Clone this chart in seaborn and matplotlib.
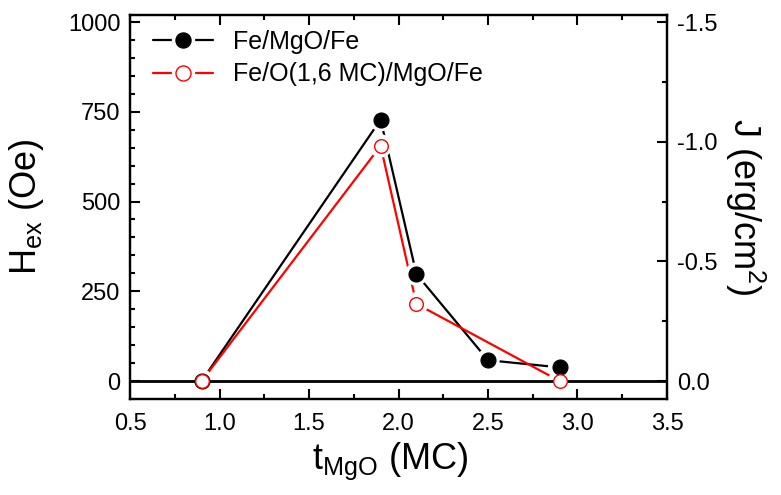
import matplotlib
matplotlib.use("Agg")
import matplotlib.pyplot as plt
import numpy as np
import pandas as pd
import seaborn as sns
from matplotlib.lines import Line2D
from matplotlib.legend_handler import HandlerTuple
from matplotlib.ticker import MultipleLocator

# ------------------------------------------------------------------
# Data
# ------------------------------------------------------------------
t_mgo_plain = [0.9, 1.9, 2.1, 2.5, 2.9]
hex_plain = [0, 728, 298, 58, 38]

t_mgo_oxid = [0.9, 1.9, 2.1, 2.9]
hex_oxid = [0, 655, 215, 0]

label_plain = "Fe/MgO/Fe"
label_oxid = "Fe/O(1,6 MC)/MgO/Fe"

x_ticks = [0.5, 1.0, 1.5, 2.0, 2.5, 3.0, 3.5]
hex_ticks = [0, 250, 500, 750, 1000]
j_ticks = [0.0, -0.5, -1.0, -1.5]

# 1000 Oe <-> -1.5 erg/cm^2
HEX_TO_J = -1.5 / 1000

sns.set_style("ticks")
plt.rcParams["font.family"] = ["Liberation Sans", "DejaVu Sans"]
plt.rcParams["mathtext.fontset"] = "custom"
plt.rcParams["mathtext.rm"] = "Liberation Sans"
plt.rcParams["mathtext.it"] = "Liberation Sans"
plt.rcParams["axes.unicode_minus"] = False
plt.rcParams["text.color"] = "black"
plt.rcParams["axes.labelcolor"] = "black"
plt.rcParams["xtick.color"] = "black"
plt.rcParams["ytick.color"] = "black"
plt.rcParams["axes.edgecolor"] = "black"

TICK_FS = 17
LABEL_FS = 26

df_plain = pd.DataFrame({"t": t_mgo_plain, "h": hex_plain})
df_oxid = pd.DataFrame({"t": t_mgo_oxid, "h": hex_oxid})

fig = plt.figure(figsize=(7.81, 4.95), dpi=100)
ax = fig.add_axes([0.1665, 0.194, 0.6875, 0.776])

ms_pt = 15 * 0.72  # marker diameter ~15 px
halo_pt = ms_pt + 6

# lines
sns.lineplot(data=df_plain, x="t", y="h", color="black", lw=1.6,
             sort=False, ax=ax, zorder=2)
sns.lineplot(data=df_oxid, x="t", y="h", color="red", lw=1.6,
             sort=False, ax=ax, zorder=2)

# white halos give the Origin-style gap between line and marker
for df in (df_plain, df_oxid):
    sns.scatterplot(data=df, x="t", y="h", s=halo_pt ** 2, color="white",
                    edgecolor="none", ax=ax, zorder=3)

ax.axhline(0, color="black", lw=2, zorder=3.5)

sns.scatterplot(data=df_plain, x="t", y="h", s=ms_pt ** 2, color="black",
                edgecolor="black", linewidth=0.8, ax=ax, zorder=4)
sns.scatterplot(data=df_oxid, x="t", y="h", s=(ms_pt - 1) ** 2, color="white",
                edgecolor="red", linewidth=1.0, ax=ax, zorder=5)

ax.set_xlim(0.5, 3.5)
ax.set_ylim(-50, 1020)
ax.set_xticks(x_ticks)
ax.set_xticklabels([f"{v:.1f}" for v in x_ticks])
ax.set_yticks(hex_ticks)
ax.set_yticklabels([str(v) for v in hex_ticks])
ax.xaxis.set_minor_locator(MultipleLocator(0.25))
ax.yaxis.set_minor_locator(MultipleLocator(50))

ax.tick_params(which="both", direction="in", top=True, right=False,
               width=1.5, labelsize=TICK_FS, pad=7)
ax.tick_params(which="major", length=7)
ax.tick_params(which="minor", length=3.5)
ax.tick_params(axis="x", pad=10)
for s in ax.spines.values():
    s.set_linewidth(1.6)

ax.set_xlabel(r"t$_{\mathregular{MgO}}$ (MC)", fontsize=LABEL_FS)
ax.set_ylabel(r"H$_{\mathregular{ex}}$ (Oe)", fontsize=LABEL_FS)
ax.xaxis.set_label_coords(0.485, -0.108)
ax.xaxis.label.set_va("top")
ax.yaxis.set_label_coords(-0.192, 0.5)
ax.yaxis.label.set_va("center")

# right axis in exchange coupling units
ax2 = ax.twinx()
lo, hi = ax.get_ylim()
ax2.set_ylim(lo * HEX_TO_J, hi * HEX_TO_J)
ax2.set_yticks(j_ticks)
ax2.set_yticklabels([f"{v:.1f}" for v in j_ticks])
ax2.yaxis.set_minor_locator(MultipleLocator(0.25))
ax2.tick_params(which="both", direction="in", width=1.5, labelsize=TICK_FS, pad=7)
ax2.tick_params(which="major", length=7)
ax2.tick_params(which="minor", length=3.5)
for s in ax2.spines.values():
    s.set_linewidth(1.6)
ax2.set_ylabel(r"J (erg/cm$^{\mathregular{2}}$)", fontsize=LABEL_FS, rotation=270)
ax2.yaxis.set_label_coords(1.145, 0.5)
ax2.yaxis.label.set_va("center")
ax2.yaxis.label.set_ha("center")

# legend with gapped handles
def gapped(color, face):
    line = Line2D([], [], color=color, lw=1.6)
    halo = Line2D([], [], ls="none", marker="o", markersize=halo_pt,
                  markerfacecolor="white", markeredgecolor="none")
    mark = Line2D([], [], ls="none", marker="o", markersize=ms_pt,
                  markerfacecolor=face, markeredgecolor=color, markeredgewidth=1)
    return (line, halo, mark)

ax.legend([gapped("black", "black"), gapped("red", "white")],
          [label_plain, label_oxid],
          handler_map={tuple: HandlerTuple(ndivide=1)},
          loc="upper left", bbox_to_anchor=(0.0, 1.02), frameon=False,
          fontsize=18, handlelength=2.4, handletextpad=0.8, labelspacing=0.35)

fig.savefig("out.png", dpi=100)
